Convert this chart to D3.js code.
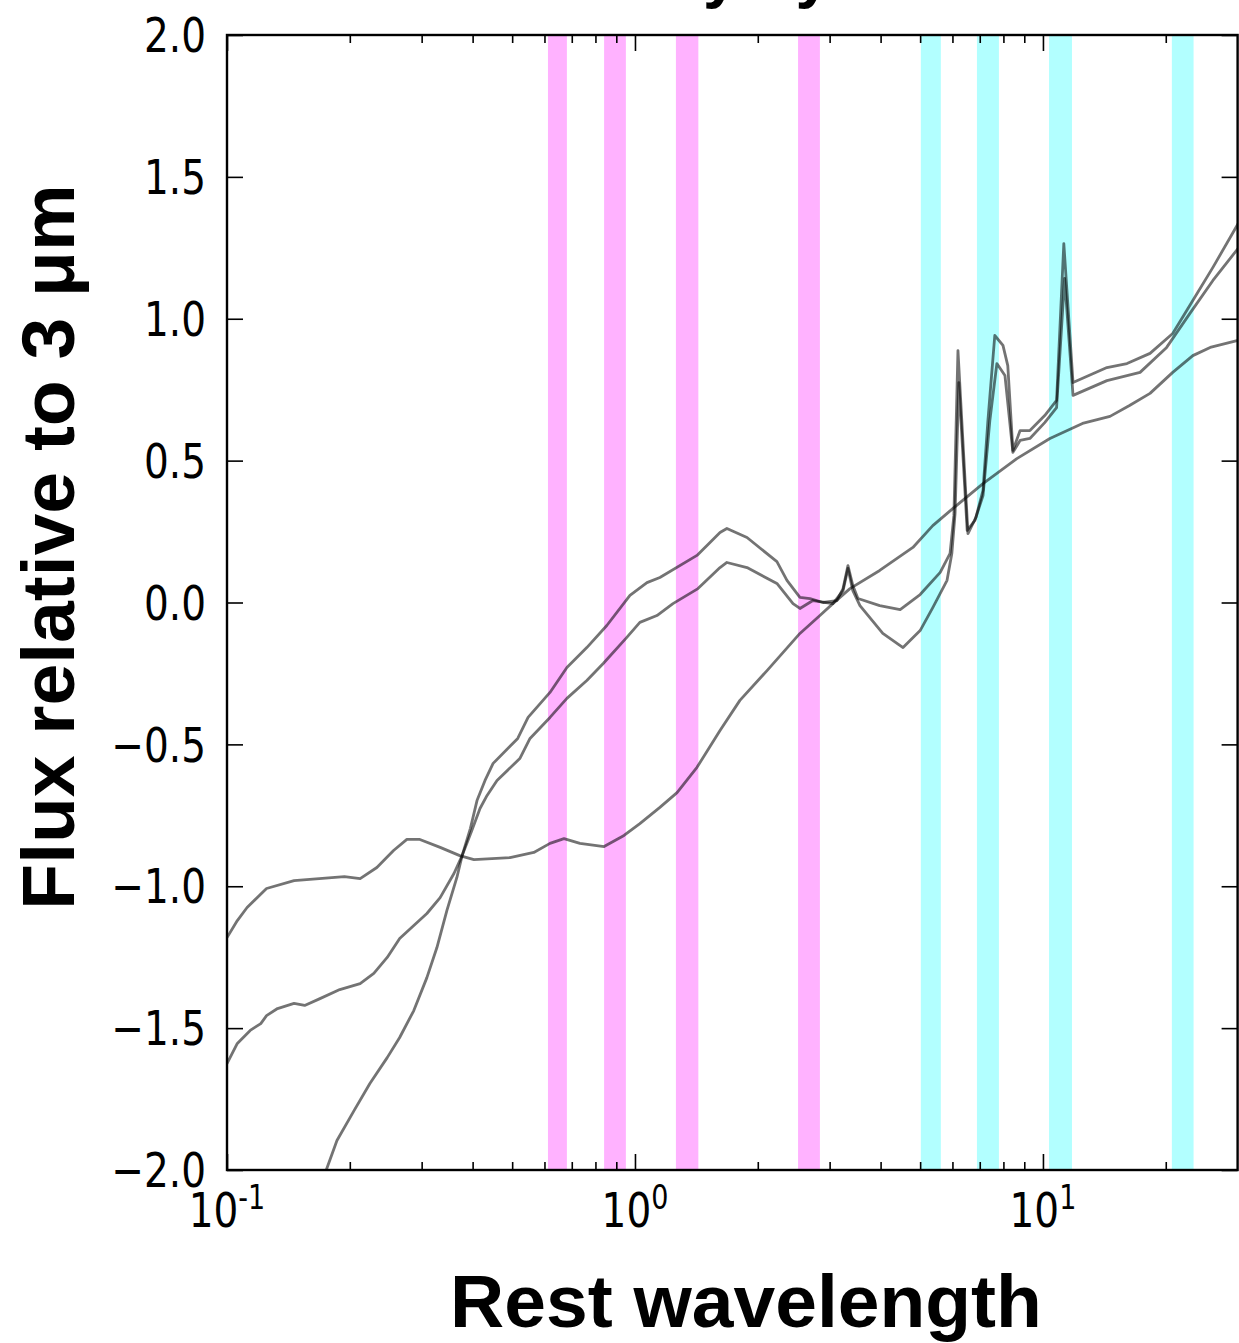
<!DOCTYPE html>
<html><head><meta charset="utf-8">
<script src="https://cdn.jsdelivr.net/npm/d3@7"></script>
<style>body{margin:0;background:#fff}svg{display:block}</style>
</head><body><svg id="c" width="1239" height="1343"></svg>
<script>
// ---- data ----
const xMajor = [0.1, 1, 10];
const xMajorLabels = [["10","-1"],["10","0"],["10","1"]];
const xMinor = [0.2,0.3,0.4,0.5,0.6,0.7,0.8,0.9,2,3,4,5,6,7,8,9,20];
const yTicks = [-2,-1.5,-1,-0.5,0,0.5,1,1.5,2];
const magentaBands = [[0.612,0.681],[0.840,0.950],[1.26,1.43],[2.51,2.84]];
const cyanBands = [[5.02,5.62],[6.89,7.80],[10.35,11.78],[20.7,23.4]];
const titleText = "Mostly by dust";
const xLabel = "Rest wavelength";
const yLabel = "Flux relative to 3 μm";

// SED 1: flat in the UV, power-law-like in the mid-IR
const sedA = [[0.100,-1.181],[0.106,-1.121],[0.112,-1.075],[0.125,-1.008],[0.146,-0.980],[0.194,-0.966],[0.212,-0.973],[0.233,-0.934],[0.256,-0.874],[0.276,-0.835],[0.297,-0.835],[0.333,-0.863],[0.372,-0.892],[0.403,-0.906],[0.494,-0.899],[0.565,-0.881],[0.619,-0.849],[0.670,-0.832],[0.733,-0.849],[0.840,-0.860],[0.940,-0.821],[1.028,-0.779],[1.151,-0.722],[1.268,-0.670],[1.419,-0.581],[1.616,-0.451],[1.808,-0.345],[2.107,-0.240],[2.537,-0.109],[2.840,-0.046],[3.055,-0.004],[3.365,0.049],[3.98,0.113],[4.80,0.194],[5.37,0.271],[6.01,0.331],[7.13,0.419],[8.63,0.507],[10.4,0.578],[12.5,0.631],[14.6,0.656],[16.3,0.694],[18.3,0.737],[20.8,0.811],[23.3,0.870],[25.7,0.899],[29.9,0.923],[30.5,0.925]];

// SED 2: PAH template (upper)
const sedB = [[0.100,-1.625],[0.106,-1.554],[0.114,-1.508],[0.121,-1.484],[0.125,-1.456],[0.133,-1.431],[0.146,-1.413],[0.155,-1.420],[0.169,-1.396],[0.189,-1.364],[0.212,-1.343],[0.229,-1.307],[0.247,-1.251],[0.265,-1.184],[0.287,-1.138],[0.309,-1.096],[0.333,-1.040],[0.360,-0.955],[0.377,-0.892],[0.395,-0.796],[0.410,-0.698],[0.429,-0.627],[0.449,-0.567],[0.516,-0.479],[0.547,-0.405],[0.619,-0.317],[0.681,-0.229],[0.762,-0.159],[0.853,-0.081],[0.972,0.025],[1.070,0.070],[1.151,0.088],[1.419,0.166],[1.616,0.247],[1.680,0.261],[1.882,0.229],[2.228,0.144],[2.358,0.078],[2.537,0.018],[2.685,0.014],[2.89,0.000],[3.126,0.007],[3.236,0.049],[3.327,0.130],[3.42,0.060],[3.52,0.014],[3.98,-0.011],[4.467,-0.025],[5.00,0.028],[5.60,0.106],[5.92,0.173],[6.05,0.307],[6.19,0.888],[6.55,0.243],[6.85,0.300],[7.13,0.395],[7.33,0.641],[7.62,0.941],[7.98,0.906],[8.20,0.835],[8.44,0.536],[8.79,0.606],[9.29,0.606],[10.1,0.659],[10.8,0.712],[11.25,1.265],[11.85,0.775],[14.35,0.828],[16.07,0.842],[18.3,0.878],[20.8,0.948],[23.3,1.064],[26.1,1.181],[30.2,1.339]];

// SED 3: PAH template (lower), steep in the UV
const sedC = [[0.168,-2.07],[0.176,-1.991],[0.186,-1.896],[0.205,-1.790],[0.224,-1.695],[0.247,-1.604],[0.265,-1.533],[0.287,-1.438],[0.309,-1.322],[0.327,-1.216],[0.346,-1.085],[0.366,-0.969],[0.377,-0.892],[0.398,-0.804],[0.417,-0.726],[0.434,-0.680],[0.459,-0.627],[0.522,-0.550],[0.553,-0.479],[0.619,-0.405],[0.681,-0.338],[0.762,-0.275],[0.836,-0.215],[0.955,-0.123],[1.028,-0.070],[1.132,-0.046],[1.239,-0.004],[1.427,0.049],[1.616,0.123],[1.680,0.141],[1.882,0.123],[2.228,0.067],[2.44,-0.004],[2.537,-0.021],[2.73,0.007],[3.055,-0.004],[3.236,0.042],[3.327,0.120],[3.42,0.042],[3.56,-0.011],[4.05,-0.109],[4.54,-0.159],[5.00,-0.099],[5.37,-0.018],[5.82,0.078],[5.98,0.173],[6.09,0.314],[6.22,0.775],[6.52,0.254],[6.81,0.289],[7.13,0.377],[7.41,0.641],[7.71,0.842],[8.07,0.800],[8.44,0.529],[8.79,0.571],[9.29,0.578],[10.1,0.634],[10.8,0.687],[11.3,1.142],[11.85,0.730],[14.35,0.782],[17.3,0.811],[20.1,0.899],[22.9,1.018],[26.1,1.135],[30.2,1.251]];

// ---- layout ----
const L = 227, R = 1237.6, T = 35, B = 1170;
const svg = d3.select("#c");
const x = d3.scaleLog().domain([0.1, 30]).range([L, R]);
const y = d3.scaleLinear().domain([-2, 2]).range([B, T]);

svg.append("clipPath").attr("id","clip").append("rect")
  .attr("x",L).attr("y",T).attr("width",R-L).attr("height",B-T);
const plot = svg.append("g").attr("clip-path","url(#clip)");

function bands(list, color){
  plot.append("g").selectAll("rect").data(list).join("rect")
    .attr("x", d => x(d[0])).attr("width", d => x(d[1]) - x(d[0]))
    .attr("y", T).attr("height", B - T)
    .attr("fill", color).attr("fill-opacity", 0.3);
}
bands(magentaBands, "#ff00ff");
bands(cyanBands, "#00ffff");

const line = d3.line().x(d => x(d[0])).y(d => y(d[1]));
plot.selectAll("path.sed").data([sedA, sedB, sedC]).join("path")
  .attr("class","sed").attr("d", line)
  .attr("fill","none").attr("stroke","#000").attr("stroke-opacity",0.55)
  .attr("stroke-width",2.8).attr("stroke-linejoin","round");

// ---- axes ----
const MAJ = 16, MIN = 8;
function styleAxis(g){
  g.select(".domain").remove();
  g.selectAll(".tick line").attr("stroke","#000").attr("stroke-width",1.6);
  g.selectAll(".tick text").remove();
}
svg.append("g").attr("transform",`translate(0,${B})`)
  .call(d3.axisBottom(x).tickValues(xMajor).tickSizeInner(-MAJ).tickSizeOuter(0)).call(styleAxis);
svg.append("g").attr("transform",`translate(0,${B})`)
  .call(d3.axisBottom(x).tickValues(xMinor).tickSizeInner(-MIN).tickSizeOuter(0)).call(styleAxis);
svg.append("g").attr("transform",`translate(0,${T})`)
  .call(d3.axisTop(x).tickValues(xMajor).tickSizeInner(-MAJ).tickSizeOuter(0)).call(styleAxis);
svg.append("g").attr("transform",`translate(0,${T})`)
  .call(d3.axisTop(x).tickValues(xMinor).tickSizeInner(-MIN).tickSizeOuter(0)).call(styleAxis);
svg.append("g").attr("transform",`translate(${L},0)`)
  .call(d3.axisLeft(y).tickValues(yTicks).tickSizeInner(-MAJ).tickSizeOuter(0)).call(styleAxis);
svg.append("g").attr("transform",`translate(${R},0)`)
  .call(d3.axisRight(y).tickValues(yTicks).tickSizeInner(-MAJ).tickSizeOuter(0)).call(styleAxis);

// frame
svg.append("rect").attr("x",L).attr("y",T).attr("width",R-L).attr("height",B-T)
  .attr("fill","none").attr("stroke","#000").attr("stroke-width",2.4);

// y tick labels (slightly stretched vertically, as in the reference)
const fmt = v => (v < 0 ? "\u2212" : "") + Math.abs(v).toFixed(1);
svg.append("g").selectAll("text").data(yTicks).join("text")
  .attr("transform", d => `translate(206,${y(d)}) scale(1,1.22)`)
  .attr("dy","0.36em")
  .attr("text-anchor","end")
  .attr("font-family","DejaVu Sans").attr("font-size",39)
  .attr("fill","#000").text(fmt);

// x tick labels
const xl = svg.append("g").selectAll("text").data(xMajor).join("text")
  .attr("transform", d => `translate(${x(d)},1227) scale(1,1.22)`)
  .attr("text-anchor","middle")
  .attr("font-family","DejaVu Sans").attr("font-size",39).attr("fill","#000");
xl.each(function(d,i){
  const t = d3.select(this);
  t.append("tspan").text(xMajorLabels[i][0]);
  t.append("tspan").attr("dy",-15).attr("font-size",27).text(xMajorLabels[i][1]);
});

// axis labels
svg.append("text").attr("x",746).attr("y",1327).attr("text-anchor","middle")
  .attr("font-family","Liberation Sans, Arial, sans-serif").attr("font-weight","bold")
  .attr("font-size",75).attr("fill","#000").text(xLabel);
svg.append("text").attr("transform","translate(74,547) rotate(-90)")
  .attr("text-anchor","middle")
  .attr("font-family","Liberation Sans, Arial, sans-serif").attr("font-weight","bold")
  .attr("font-size",75).attr("fill","#000").text(yLabel);

// title (mostly cropped off the top of the figure, as in the reference)
svg.append("text").attr("x",536).attr("y",-4)
  .attr("font-family","Liberation Sans, Arial, sans-serif").attr("font-weight","bold")
  .attr("font-size",64).attr("fill","#000").text(titleText);
</script></body></html>
